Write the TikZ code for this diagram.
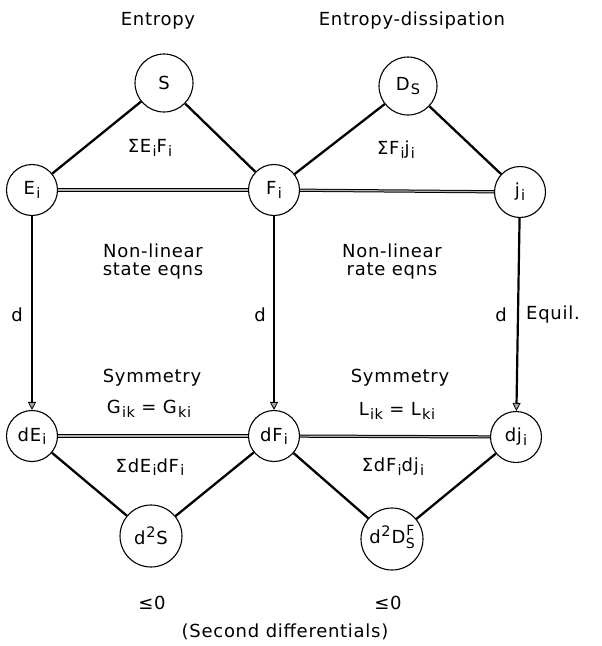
\documentclass[tikz,border=0pt]{standalone}
\usepackage{fontspec}
\setmainfont[LetterSpace=4]{DejaVu Sans}
\usetikzlibrary{arrows.meta}
% lowered / raised indices at a fixed size that suits the 18pt labels
\newcommand{\lo}[1]{\kern1.2pt\raisebox{-0.35ex}{\fontsize{14.5}{15}\selectfont #1}}
\newcommand{\hi}[1]{\kern0.8pt\raisebox{0.7ex}{\fontsize{14.5}{15}\selectfont #1}\kern0.8pt}
\newcommand{\both}[2]{\kern0.5pt\ensuremath{\vcenter{\hbox{\fontsize{14}{14}\selectfont\begin{tabular}{@{}c@{}}#1\\[-1pt]#2\end{tabular}}}}}
\begin{document}
\begin{tikzpicture}[x=1pt,y=-1pt,
  every node/.style={font=\fontsize{18}{21}\selectfont},
  var/.style={draw,circle,line width=1.1pt,minimum size=51pt,inner sep=0pt},
  bigvar/.style={var,minimum size=58pt},
  bond/.style={line width=2.3pt},
  pair/.style={double=black!30,double distance=1.2pt,line width=1pt},
  deriv/.style={line width=2.2pt,-{Triangle[length=8pt,width=8pt,fill=black!35,line width=0.8pt]}},
  lbl/.style={align=center,inner sep=1pt}]
\useasboundingbox (0,0) rectangle (602,646);

% column headings
\node[lbl] (hE) at (158,21) {Entropy};
\node[lbl] (hD) at (412,21) {Entropy-dissipation};

% potentials
\node[bigvar] (S) at (164,83) {S};
\node[bigvar] (D) at (408,86) {D\lo{S}};

% state variables
\node[var] (E)  at (32,190)  {E\lo{i}};
\node[var] (F)  at (274,190) {F\lo{i}};
\node[var] (J)  at (520,192) {j\lo{i}};

% differentials
\node[var] (dE) at (32,436)  {dE\lo{i}};
\node[var] (dF) at (274,436) {dF\lo{i}};
\node[var] (dJ) at (516,437) {dj\lo{i}};

% second differentials
\node[bigvar,minimum size=62pt] (ddS) at (151,536) {d\hi{2}S};
\node[bigvar,minimum size=62pt] (ddD) at (392,539) {d\hi{2}D\both{F}{S}};

% upper triangles
\draw[bond] (E) -- (S);
\draw[bond] (S) -- (F);
\draw[bond] (F) -- (D);
\draw[bond] (D) -- (J);
\draw[pair] (E) -- (F);
\draw[pair] (F) -- (J);

% lower triangles
\draw[bond] (dE) -- (ddS);
\draw[bond] (ddS) -- (dF);
\draw[bond] (dF) -- (ddD);
\draw[bond] (ddD) -- (dJ);
\draw[pair] (dE) -- (dF);
\draw[pair] (dF) -- (dJ);

% differentiation
\draw[deriv] (E) -- (dE);
\draw[deriv] (F) -- (dF);
\draw[deriv] (J) -- (dJ);

% labels
\node[lbl] (sEF) at (150,148) {ΣE\lo{i}F\lo{i}};
\node[lbl] (sFj) at (396,150) {ΣF\lo{i}j\lo{i}};
\node[lbl] (nls) at (153,262) {Non-linear\\[-3pt]state eqns};
\node[lbl] (nlr) at (392,262) {Non-linear\\[-3pt]rate eqns};
\node[lbl] (d1) at (17,315) {d};
\node[lbl] (d2) at (260,315) {d};
\node[lbl] (d3) at (501,315) {d};
\node[lbl,anchor=west] (eq) at (525,315) {Equil.};
\node[lbl] (sy1) at (152,378) {Symmetry};
\node[lbl] (sy2) at (400,378) {Symmetry};
\node[lbl] (G) at (149,409) {G\lo{ik} = G\lo{ki}};
\node[lbl] (L) at (397,411) {L\lo{ik} = L\lo{ki}};
\node[lbl] (sdE) at (150,467) {ΣdE\lo{i}dF\lo{i}};
\node[lbl] (sdF) at (393,467) {ΣdF\lo{i}dj\lo{i}};
\node[lbl] (le1) at (152,603) {≤0};
\node[lbl] (le2) at (388,603) {≤0};
\node[lbl] (sec) at (285,632) {(Second differentials)};
\end{tikzpicture}
\end{document}
